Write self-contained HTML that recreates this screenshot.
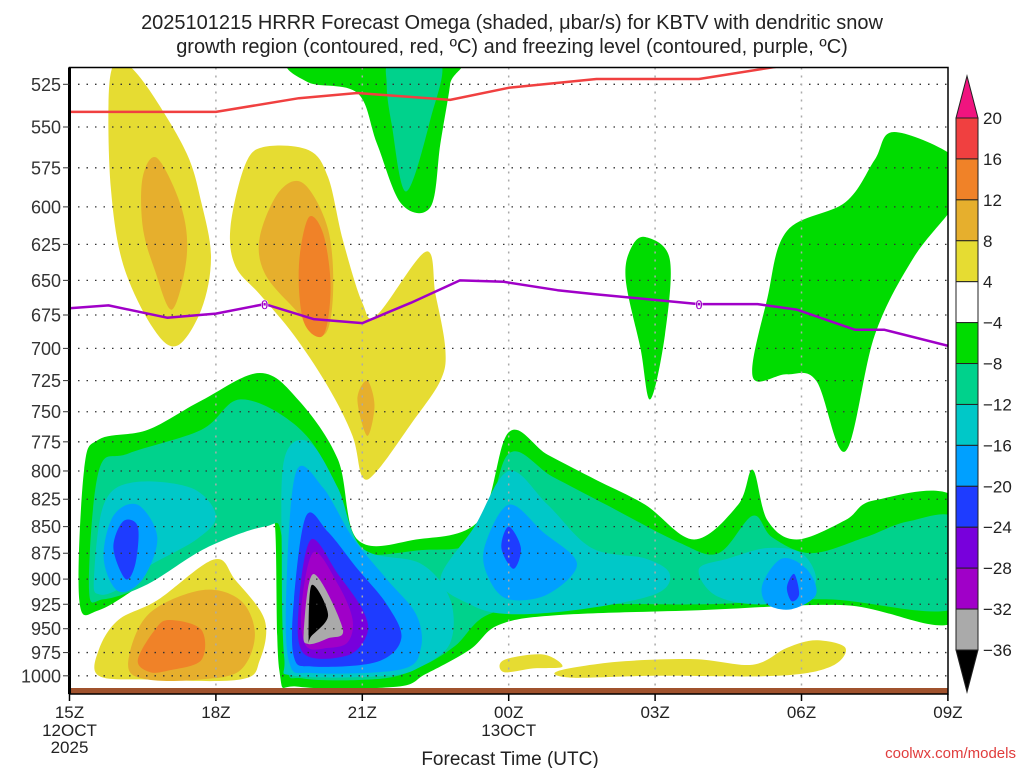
<!DOCTYPE html>
<html><head><meta charset="utf-8"><style>
body{margin:0;background:#fff;}
svg{display:block;font-family:"Liberation Sans","DejaVu Sans",sans-serif;}
</style></head><body>
<svg id="chart" width="1024" height="768" viewBox="0 0 1024 768">
<text x="512" y="29" text-anchor="middle" font-size="20" fill="#222">2025101215 HRRR Forecast Omega (shaded, μbar/s) for KBTV with dendritic snow</text>
<text x="512" y="53" text-anchor="middle" font-size="20" fill="#222">growth region (contoured, red, ºC) and freezing level (contoured, purple, ºC)</text>
<defs><clipPath id="pc"><rect x="69.5" y="67.5" width="878.5" height="620.5"/></clipPath></defs>
<g id="shades" clip-path="url(#pc)"></g>
<g id="grid"></g>
<g id="lines" clip-path="url(#pc)"></g>
<rect x="69.5" y="688" width="878.5" height="6" fill="#a0522d"/>
<rect x="69.5" y="67.5" width="878.5" height="626.5" fill="none" stroke="#000" stroke-width="1.5"/>
<line x1="69.5" y1="67.5" x2="69.5" y2="694" stroke="#000" stroke-width="3"/>
<g id="axes"></g>
<g id="cbar"></g>
<text x="510" y="765" text-anchor="middle" font-size="19" fill="#222">Forecast Time (UTC)</text>
<text x="1016" y="758" text-anchor="end" font-size="15" fill="#e03c3c">coolwx.com/models</text>
</svg>
<script>
const levels = [20,16,12,8,4,-4,-8,-12,-16,-20,-24,-28,-32,-36];
const levelColors = ["#f04040","#f08228","#e6af2d","#e6dc32","#ffffff","#00dc00","#00d28c","#00c8c8","#00a0ff","#1e3cff","#7800dc","#a000c8","#aaaaaa"];
const pressureTicks = [525,550,575,600,625,650,675,700,725,750,775,800,825,850,875,900,925,950,975,1000];
const timeTicks = [0,3,6,9,12,15,18];
const timeLabels = ["15Z","18Z","21Z","00Z","03Z","06Z","09Z"];
const yellowUL = [[0.9,514],[1.2,514],[1.7,531],[2.4,566],[2.7,597],[2.9,634],[2.7,671],[2.2,698],[1.7,684],[1.1,639],[0.85,589],[0.8,536]];
const goldUL = [[1.5,581],[1.8,569],[2.3,601],[2.4,634],[2.1,671],[1.75,643],[1.5,613]];
const yellowMid = [[3.3,613],[3.6,573],[4.0,562],[4.9,564],[5.3,581],[5.6,622],[6.0,666],[6.3,675],[7.3,630],[7.5,660],[7.7,700],[7.6,725],[7.0,760],[6.3,800],[6.0,805],[5.8,770],[5.3,730],[4.6,690],[3.9,660],[3.4,640]];
const goldMid = [[3.9,620],[4.3,590],[4.8,585],[5.3,615],[5.4,660],[5.2,690],[4.6,670],[4.0,645]];
const orangeMid = [[4.7,640],[4.9,607],[5.2,618],[5.35,655],[5.2,690],[4.8,680]];
const goldSmall = [[5.9,740],[6.1,725],[6.25,745],[6.1,770]];
const greenTop = [[4.65,512],[7.8,512],[7.8,525],[7.6,560],[7.4,600],[6.8,598],[6.3,560],[5.9,530],[4.9,524]];
const tealTop = [[6.6,512],[7.6,512],[7.4,545],[6.9,590],[6.6,548],[6.5,525]];
const greenMidSmall = [[11.4,650],[11.5,628],[11.8,620],[12.3,635],[12.2,690],[11.9,740],[11.7,700]];
const greenRight = [[14.0,722],[14.3,663],[14.7,616],[15.9,597],[16.5,570],[16.9,553],[18.2,570],[18.2,595],[17.3,634],[16.5,690],[15.9,783],[15.3,725],[14.7,720]];
const greenBand = [[0.2,921],[0.3,799],[0.6,773],[1.6,765],[2.7,741],[3.9,719],[4.7,741],[5.5,790],[5.9,862],[7.1,862],[8.4,844],[9.0,767],[9.8,786],[10.8,808],[11.8,830],[12.8,862],[13.7,830],[14.0,799],[14.3,844],[14.9,862],[15.9,844],[16.5,826],[18.2,826],[18.2,941],[15.9,926],[12.9,931],[10,936],[8.8,946],[8.2,972],[7.3,998],[6.7,1012],[4.7,1012],[4.3,994],[4.2,844],[3.9,835],[2.7,862],[1.6,901],[0.6,931]];
const tealBand = [[0.4,910],[0.6,800],[1.2,785],[2.7,765],[3.5,740],[4.6,760],[5.3,800],[5.7,870],[7.2,872],[8.4,860],[9.0,785],[9.9,805],[11,830],[12.5,865],[13.3,875],[14.0,840],[14.4,860],[15.2,875],[16.3,860],[17.2,845],[18.2,845],[18.2,928],[15.5,920],[13,925],[10,925],[8.6,935],[7.9,968],[7.2,990],[6.4,1003],[4.8,1003],[4.45,985],[4.35,860],[4.0,850],[2.8,870],[1.6,905],[0.7,920]];
const cyanLeft = [[0.5,900],[0.7,830],[1.3,810],[2.5,815],[3.0,840],[2.6,862],[1.6,888],[1.0,910],[0.6,915]];
const cyanMid = [[4.35,880],[4.4,790],[4.9,775],[5.5,815],[6.0,870],[7.2,885],[7.8,920],[7.8,965],[7.2,990],[6.5,1000],[4.6,1000],[4.4,980]];
const cyan00 = [[7.6,900],[8.3,850],[9.0,800],[9.8,830],[10.7,870],[11.8,880],[12.3,895],[12.0,915],[10.5,930],[9.0,935],[8.2,925]];
const cyanRight = [[12.9,890],[13.5,880],[14.3,870],[15,875],[15.3,900],[15.0,920],[14.0,925],[13.2,915]];
const ltblueLeft = [[0.7,880],[0.9,840],[1.4,830],[1.8,860],[1.5,900],[1.0,912]];
const ltblueMid = [[4.45,900],[4.65,800],[5.2,815],[5.8,860],[6.5,900],[7.1,935],[7.2,970],[6.8,993],[5,997],[4.5,985]];
const ltblue00 = [[8.5,870],[9.0,830],[9.7,855],[10.4,885],[9.8,915],[9.0,920],[8.6,900]];
const ltblueRight = [[14.2,905],[14.6,880],[15.1,890],[15.3,915],[14.8,930],[14.3,925]];
const blueLeft = [[0.9,870],[1.1,845],[1.4,850],[1.35,885],[1.15,900]];
const blueMid = [[4.6,920],[4.85,840],[5.3,855],[5.9,890],[6.5,925],[6.8,960],[6.3,985],[5,990],[4.6,980]];
const blue00 = [[8.85,870],[9.0,850],[9.25,870],[9.1,890]];
const blueRight = [[14.7,908],[14.85,895],[14.95,915],[14.8,922]];
const purpleMid = [[4.7,925],[4.95,862],[5.5,895],[6.0,930],[6.1,955],[5.7,978],[4.8,976]];
const magentaMid = [[4.75,930],[5.0,874],[5.5,905],[5.8,940],[5.7,964],[5.3,970],[4.85,968]];
const grayMid = [[4.8,954],[5.0,895],[5.6,950],[5.3,960],[4.9,966]];
const blackMid = [[4.9,962],[4.96,906],[5.3,936],[4.95,958]];
const yellowLL = [[0.6,972],[1.0,941],[1.8,921],[2.96,881],[3.4,901],[4.0,941],[3.9,983],[3.5,1004],[1.6,1004],[0.6,1000]];
const goldLL = [[1.2,988],[1.6,936],[2.7,911],[3.5,921],[3.8,956],[3.5,994],[2.7,1004],[1.6,1004]];
const orangeLL = [[1.4,983],[1.75,951],[2.05,941],[2.7,951],[2.7,983],[2.05,994],[1.65,996]];
const yellowB1 = [[8.9,983],[9.7,977],[10.1,990],[9.5,992],[8.9,996]];
const yellowB2 = [[10,995],[11.2,985],[12.8,982],[14,988],[14.7,970],[15.3,962],[15.9,970],[15.6,990],[14.5,1000],[12,1000],[10.3,1002]];
const dgzHours = [0,3,4.7,5.9,7.8,9,10.8,12.9,14.5,16];
const dgzP = [541,541,533,530,534,527,522,522,515,505];
const frzHours = [0,0.8,2,3,4,5,6,7,8,8.9,10,10.8,12.9,14.1,14.9,16.1,16.7,18];
const frzP = [670,668,677,674,667,678,681,666,650,651,657,660,667,667,671,686,686,698];

const NS="http://www.w3.org/2000/svg";
function X(h){return 69.5+h*48.8;}
function Y(p){return 84.3+918*Math.log(p/525);}
function el(t,a,parent){const e=document.createElementNS(NS,t);for(const k in a)e.setAttribute(k,a[k]);parent.appendChild(e);return e;}
function smoothPath(pts){
  const P=pts.map(d=>[X(d[0]),Y(d[1])]);const n=P.length;let s="M"+P[0][0].toFixed(1)+","+P[0][1].toFixed(1);
  for(let i=0;i<n;i++){const p0=P[(i-1+n)%n],p1=P[i],p2=P[(i+1)%n],p3=P[(i+2)%n];
    const c1=[p1[0]+(p2[0]-p0[0])/6,p1[1]+(p2[1]-p0[1])/6],c2=[p2[0]-(p3[0]-p1[0])/6,p2[1]-(p3[1]-p1[1])/6];
    s+="C"+c1[0].toFixed(1)+","+c1[1].toFixed(1)+" "+c2[0].toFixed(1)+","+c2[1].toFixed(1)+" "+p2[0].toFixed(1)+","+p2[1].toFixed(1);}
  return s+"Z";}
const LC=levelColors;
const regions=[
 ["yellow-upper-left",LC[3],yellowUL],["gold-upper-left",LC[2],goldUL],
 ["yellow-mid",LC[3],yellowMid],["gold-mid",LC[2],goldMid],["orange-mid",LC[1],orangeMid],["gold-small",LC[2],goldSmall],
 ["green-top",LC[5],greenTop],["teal-top",LC[6],tealTop],["green-mid-small",LC[5],greenMidSmall],["green-right",LC[5],greenRight],
 ["green-band",LC[5],greenBand],["teal-band",LC[6],tealBand],
 ["cyan-left",LC[7],cyanLeft],["cyan-mid",LC[7],cyanMid],["cyan-00z",LC[7],cyan00],["cyan-right",LC[7],cyanRight],
 ["ltblue-left",LC[8],ltblueLeft],["ltblue-mid",LC[8],ltblueMid],["ltblue-00z",LC[8],ltblue00],["ltblue-right",LC[8],ltblueRight],
 ["blue-left",LC[9],blueLeft],["blue-mid",LC[9],blueMid],["blue-00z",LC[9],blue00],["blue-right",LC[9],blueRight],
 ["purple-mid",LC[10],purpleMid],["magenta-mid",LC[11],magentaMid],["gray-mid",LC[12],grayMid],["black-mid","#000",blackMid],
 ["yellow-lower-left",LC[3],yellowLL],["gold-lower-left",LC[2],goldLL],["orange-lower-left",LC[1],orangeLL],
 ["yellow-bottom-1",LC[3],yellowB1],["yellow-bottom-2",LC[3],yellowB2]];
const sh=document.getElementById("shades");
regions.forEach(r=>{const e=el("path",{d:smoothPath(r[2]),fill:r[1]},sh);
 
 });
const gr=document.getElementById("grid"),ax=document.getElementById("axes");
pressureTicks.forEach(p=>{const y=Y(p);
 const l=el("line",{x1:69.5,x2:948,y1:y,y2:y,stroke:"#333","stroke-width":1.3,"stroke-dasharray":"1.5,7"},gr);
 
 
 const t=el("text",{x:61,y:y+6.5,"text-anchor":"end","font-size":18,fill:"#333"},ax);t.textContent=p;
 
 
 el("line",{x1:63,x2:69.5,y1:y,y2:y,stroke:"#333"},ax);});
timeTicks.forEach((h,i)=>{const x=X(h);
 if(i>0&&i<timeTicks.length-1){const l=el("line",{x1:x,x2:x,y1:67.5,y2:688,stroke:"#aaa","stroke-width":1.5,"stroke-dasharray":"2,6"},gr);
 
 }
 el("line",{x1:x,x2:x,y1:694,y2:701,stroke:"#000","stroke-width":1.5},ax);
 const t=el("text",{x:x,y:718,"text-anchor":"middle","font-size":17,fill:"#222"},ax);t.textContent=timeLabels[i];
 
 });
[["12OCT",0,736],["2025",0,753],["13OCT",9,736]].forEach(d=>{const t=el("text",{x:X(d[1]),y:d[2],"text-anchor":"middle","font-size":17,fill:"#222"},ax);t.textContent=d[0];
 
 });
const ln=document.getElementById("lines");
function drawLine(hs,ps,color,name){const d=hs.map((h,i)=>(i?"L":"M")+X(h).toFixed(1)+","+Y(ps[i]).toFixed(1)).join("");
 const e=el("path",{d:d,fill:"none",stroke:color,"stroke-width":2.5,"stroke-linejoin":"round"},ln);
 
 }
drawLine(dgzHours,dgzP,"#f04040","dgz-contour-red");
drawLine(frzHours,frzP,"#a000c8","freezing-level-purple");
[[4,667],[12.9,667]].forEach((d,i)=>{const t=el("text",{x:X(d[0]),y:Y(d[1])+5.5,"text-anchor":"middle","font-size":14,"font-weight":"bold",fill:"#a000c8",stroke:"#fff","stroke-width":0.5},ln);t.textContent="0";
 
 });
const cb=document.getElementById("cbar");const cbx=956,cbw=22,cbTop=118,cbh=(650-118)/13;
levelColors.forEach((c,i)=>{const r=el("rect",{x:cbx,y:cbTop+i*cbh,width:cbw,height:cbh,fill:c,stroke:"#222","stroke-width":1},cb);
 
 });
const tu=el("polygon",{points:`${cbx},${cbTop} ${cbx+cbw},${cbTop} ${cbx+cbw/2},76`,fill:"#f0147f",stroke:"#222"},cb);


const td=el("polygon",{points:`${cbx},650 ${cbx+cbw},650 ${cbx+cbw/2},692`,fill:"#000",stroke:"#222"},cb);


levels.forEach((v,i)=>{const t=el("text",{x:983,y:cbTop+i*cbh+6,"font-size":17,fill:"#222"},cb);t.textContent=v<0?"\u2212"+(-v):v;
 
 });
</script>
</body></html>
